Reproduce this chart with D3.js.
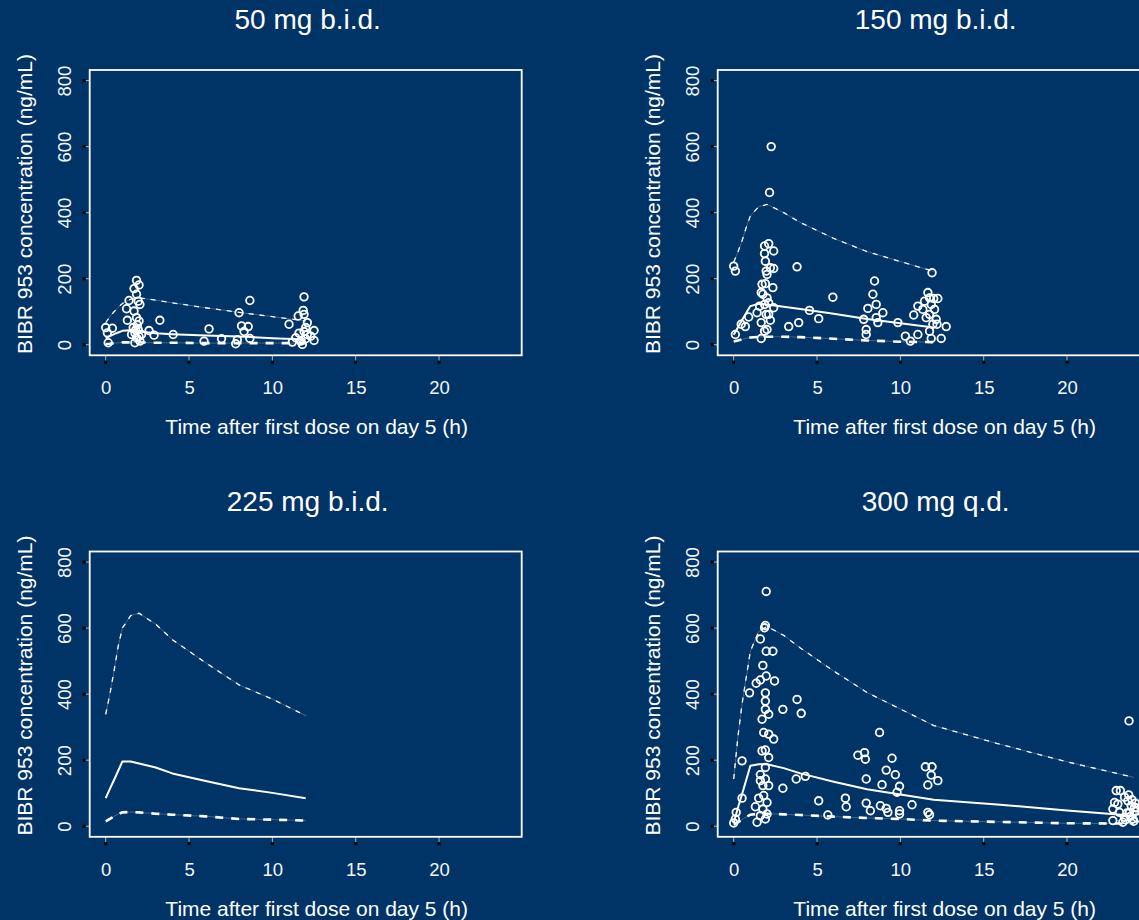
<!DOCTYPE html>
<html>
<head>
<meta charset="utf-8">
<script src="https://cdn.jsdelivr.net/npm/d3@7"></script>
<style>
  html, body { margin: 0; padding: 0; background: #003366; overflow: hidden; }
  svg { display: block; font-family: "Liberation Sans", Arial, sans-serif; }
</style>
</head>
<body>
<svg id="viz" width="1139" height="920"></svg>
<script>
// Data
const timesBid = [0, 0.25, 0.5, 0.75, 1, 1.5, 2, 3, 4, 6, 8, 10, 12];
const timesQd = [0, 0.25, 0.5, 0.75, 1, 1.5, 2, 3, 4, 6, 8, 10, 12, 16, 20, 24];

const median50 = [20, 26, 32, 37, 42, 44, 40, 35, 32, 28, 25, 20, 16];
const upper50 = [67, 85, 100, 113, 125, 138, 142, 135, 127, 112, 98, 85, 72];
const lower50 = [2, 3, 5, 6, 7, 7, 7, 6, 6, 5, 5, 5, 5];
const obs50 = [
  [0, 52], [0.1, 36], [0.15, 6], [0.4, 50],
  [1.4, 134], [1.25, 109], [1.3, 74], [1.7, 170], [1.85, 195], [2.0, 181], [1.85, 153], [1.95, 132],
  [2.05, 122], [1.7, 102], [1.85, 82], [2.0, 72], [1.65, 52], [1.75, 36], [1.85, 21], [1.75, 6],
  [1.95, 46], [1.55, 31], [2.15, 31], [2.05, 11], [1.9, 60], [1.8, 45], [2.0, 25],
  [2.6, 43], [2.9, 29], [3.25, 74], [4.05, 31],
  [5.9, 11], [6.2, 48], [6.95, 18], [7.8, 3], [8.0, 97], [8.15, 57], [8.55, 55], [8.65, 134],
  [8.65, 19], [8.3, 40], [7.9, 15],
  [11.0, 62], [11.55, 87], [11.9, 145], [11.85, 104], [11.9, 92], [12.0, 52], [12.1, 31], [11.7, 11],
  [11.4, 21], [12.5, 43], [12.5, 13], [12.3, 26], [11.8, 1], [11.2, 8], [12.1, 67], [11.9, 40],
  [12.0, 18], [11.6, 35]
];

const median150 = [30, 52, 75, 96, 117, 124, 122, 115, 108, 94, 78, 65, 52];
const upper150 = [250, 280, 315, 355, 390, 418, 425, 400, 370, 322, 282, 252, 222];
const lower150 = [10, 13, 16, 19, 22, 24, 24, 24, 23, 18, 13, 9, 8];
const obs150 = [
  [0, 238], [0.1, 223], [0.1, 31],
  [0.45, 62], [0.7, 55], [0.9, 84], [1.4, 97],
  [1.65, 19], [1.85, 299], [2.1, 306], [2.4, 284], [1.85, 276], [1.9, 253], [1.95, 223], [2.2, 233],
  [2.4, 231], [2.0, 213], [1.7, 183], [1.9, 185], [2.35, 173], [1.65, 158], [2.0, 142], [1.85, 122],
  [2.1, 127], [1.55, 117], [1.65, 67], [1.85, 41], [2.0, 46], [2.2, 74], [2.4, 112], [1.95, 92],
  [2.1, 92], [1.75, 153], [2.15, 461], [2.25, 600],
  [3.3, 55], [3.8, 236], [3.9, 67], [4.55, 104], [5.1, 79], [5.95, 144],
  [7.8, 77], [7.95, 46], [7.95, 31], [8.05, 110], [8.35, 153], [8.45, 193], [8.55, 122], [8.55, 82],
  [8.65, 67], [8.95, 97], [9.85, 67],
  [10.3, 26], [10.6, 11], [10.8, 90], [11.05, 117], [11.05, 31], [11.45, 132], [11.65, 158],
  [11.75, 142], [11.9, 218], [11.85, 122], [11.75, 92], [12.05, 107], [12.15, 77], [11.95, 62],
  [11.75, 41], [11.85, 19], [12.2, 62], [12.45, 19], [12.75, 55], [12.0, 140], [11.55, 82],
  [11.35, 107], [12.25, 140]
];

const median225 = [85, 113, 140, 168, 196, 196, 190, 178, 160, 137, 115, 101, 85];
const upper225 = [339, 400, 470, 545, 600, 638, 645, 612, 565, 495, 428, 385, 335];
const lower225 = [15, 22, 30, 37, 42, 43, 42, 38, 35, 30, 22, 20, 17];
const obs225 = [];

const median300 = [10, 55, 97, 140, 183, 188, 188, 176, 160, 135, 112, 96, 80, 65, 48, 32];
const upper300 = [143, 270, 370, 450, 530, 590, 605, 578, 540, 470, 405, 355, 305, 248, 195, 148];
const lower300 = [5, 12, 20, 28, 35, 38, 38, 36, 34, 29, 25, 22, 17, 13, 9, 8];
const obs300 = [
  [0, 10], [0.1, 22], [0.15, 42], [0.5, 85], [0.5, 198], [0.95, 404],
  [1.3, 59], [1.4, 12], [1.5, 85], [1.6, 156], [1.6, 138], [1.35, 433], [1.6, 567], [1.75, 487],
  [1.85, 601], [1.95, 711], [1.9, 608], [1.95, 530], [2.35, 530], [1.6, 443], [1.95, 455], [2.45, 440],
  [1.9, 404], [1.9, 379], [1.9, 354], [1.7, 324], [2.1, 339], [1.8, 284], [2.1, 279], [2.4, 264],
  [2.1, 208], [1.7, 228], [1.9, 231], [1.9, 178], [1.9, 143], [1.75, 123], [2.1, 123], [1.8, 93],
  [2.0, 72], [1.75, 52], [2.0, 37], [1.9, 22], [1.6, 32],
  [2.95, 354], [2.95, 115], [3.75, 143], [3.8, 384], [4.05, 342], [4.3, 151],
  [5.1, 77], [5.65, 34], [6.7, 85], [6.75, 59],
  [7.45, 215], [7.85, 223], [7.9, 203], [7.95, 143], [7.95, 70], [8.2, 47], [8.75, 284], [8.8, 62],
  [8.9, 126], [9.15, 170], [9.15, 54], [9.25, 42], [9.5, 206], [9.7, 156], [9.8, 103], [9.95, 121],
  [9.95, 47], [9.95, 37], [10.7, 65],
  [11.5, 180], [11.65, 125], [11.85, 155], [11.9, 180], [12.25, 138], [11.65, 42], [11.75, 35],
  [23.72, 319],
  [22.95, 108], [23.2, 108], [22.75, 52], [22.85, 72], [23.05, 67], [23.45, 88], [23.65, 77],
  [23.85, 62], [22.75, 17], [23.15, 42], [23.45, 27], [23.75, 42], [23.95, 22], [23.35, 12],
  [24.05, 57], [23.6, 40], [23.8, 30], [24.0, 15], [24.1, 45], [24.2, 25], [23.9, 80], [24.1, 70],
  [23.7, 95], [24.2, 55], [23.5, 20]
];

const xTicks = [0, 5, 10, 15, 20];
const yTicks = [0, 200, 400, 600, 800];
const panelTitles = ['50 mg b.i.d.', '150 mg b.i.d.', '225 mg b.i.d.', '300 mg q.d.'];
const xTitle = 'Time after first dose on day 5 (h)';
const yTitle = 'BIBR 953 concentration (ng/mL)';

// Layout
const boxW = 432, boxH = 285.3;
const panels = [
  { left: 89.7, top: 70, title: panelTitles[0], t: timesBid, med: median50, up: upper50, lo: lower50, obs: obs50 },
  { left: 717.7, top: 70, title: panelTitles[1], t: timesBid, med: median150, up: upper150, lo: lower150, obs: obs150 },
  { left: 89.7, top: 551.5, title: panelTitles[2], t: timesBid, med: median225, up: upper225, lo: lower225, obs: obs225 },
  { left: 717.7, top: 551.5, title: panelTitles[3], t: timesQd, med: median300, up: upper300, lo: lower300, obs: obs300 }
];

const svg = d3.select('#viz');
svg.append('rect').attr('width', 1139).attr('height', 920).attr('fill', '#003366');

panels.forEach(p => {
  const x = d3.scaleLinear().domain([-0.96, 24.96]).range([p.left, p.left + boxW]);
  const y = d3.scaleLinear().domain([-32, 832]).range([p.top + boxH, p.top]);
  const g = svg.append('g');
  const bottom = p.top + boxH;

  // title
  g.append('text').attr('x', p.left + boxW / 2 + 2).attr('y', p.top - 40.7)
    .attr('text-anchor', 'middle').style('font-size', '28px').style('fill', '#fff').text(p.title);

  // x axis labels
  const xa = g.append('g').attr('transform', `translate(0,${bottom})`)
    .call(d3.axisBottom(x).tickValues(xTicks).tickSize(0).tickPadding(26));
  xa.select('.domain').remove();
  xa.selectAll('text').style('font-size', '18.5px').style('fill', '#f4f6f8').style('font-family', 'Liberation Sans, Arial, sans-serif');

  // y axis labels, rotated
  const ya = g.append('g').attr('transform', `translate(${p.left},0)`)
    .call(d3.axisLeft(y).tickValues(yTicks).tickSize(0));
  ya.select('.domain').remove();
  ya.selectAll('text').attr('transform', 'rotate(-90)').attr('x', 0).attr('y', -19).attr('dy', 0)
    .attr('text-anchor', 'middle').style('font-size', '18.5px').style('fill', '#f4f6f8')
    .style('font-family', 'Liberation Sans, Arial, sans-serif');

  // tick marks: short light stem with a black end
  xTicks.forEach(v => {
    g.append('line').attr('x1', x(v)).attr('x2', x(v)).attr('y1', bottom).attr('y2', bottom + 5.5)
      .attr('stroke', '#cfd8e3').attr('stroke-width', 0.8);
    g.append('rect').attr('x', x(v) - 1.5).attr('y', bottom + 5.4).attr('width', 3).attr('height', 3).attr('fill', '#000');
  });
  yTicks.forEach(v => {
    g.append('line').attr('x1', p.left - 4).attr('x2', p.left).attr('y1', y(v)).attr('y2', y(v))
      .attr('stroke', '#cfd8e3').attr('stroke-width', 0.8);
    g.append('rect').attr('x', p.left - 7).attr('y', y(v) - 1.5).attr('width', 3).attr('height', 3).attr('fill', '#000');
  });

  // axis titles
  g.append('text').attr('x', p.left + boxW / 2 + 11).attr('y', p.top + 364)
    .attr('text-anchor', 'middle').style('font-size', '21px').style('fill', '#fff').text(xTitle);
  g.append('text').attr('transform', `translate(${p.left - 58},${p.top + 134}) rotate(-90)`)
    .attr('text-anchor', 'middle').style('font-size', '21px').style('fill', '#fff').text(yTitle);

  // lines
  const line = d3.line().x((d, i) => x(p.t[i])).y(d => y(d));
  // faint base under dashed percentiles
  [p.up, p.lo].forEach(arr => {
    g.append('path').datum(arr).attr('d', line).attr('fill', 'none')
      .attr('stroke', '#fff').attr('stroke-opacity', 0.25).attr('stroke-width', 1);
  });
  g.append('path').datum(p.up).attr('d', line).attr('fill', 'none')
    .attr('stroke', '#fff').attr('stroke-width', 1.3).attr('stroke-dasharray', '5,6');
  g.append('path').datum(p.lo).attr('d', line).attr('fill', 'none')
    .attr('stroke', '#fff').attr('stroke-width', 2.6).attr('stroke-dasharray', '8,8');
  g.append('path').datum(p.med).attr('d', line).attr('fill', 'none')
    .attr('stroke', '#fff').attr('stroke-width', 2).attr('stroke-linejoin', 'round');

  // observations
  g.selectAll('circle.obs').data(p.obs).enter().append('circle').attr('class', 'obs')
    .attr('cx', d => x(d[0])).attr('cy', d => y(d[1])).attr('r', 3.8)
    .attr('fill', 'none').attr('stroke', '#fff').attr('stroke-width', 1.8);

  // box
  g.append('rect').attr('x', p.left).attr('y', p.top).attr('width', boxW).attr('height', boxH)
    .attr('fill', 'none').attr('stroke', '#fff').attr('stroke-width', 1.8);
});
</script>
</body>
</html>
